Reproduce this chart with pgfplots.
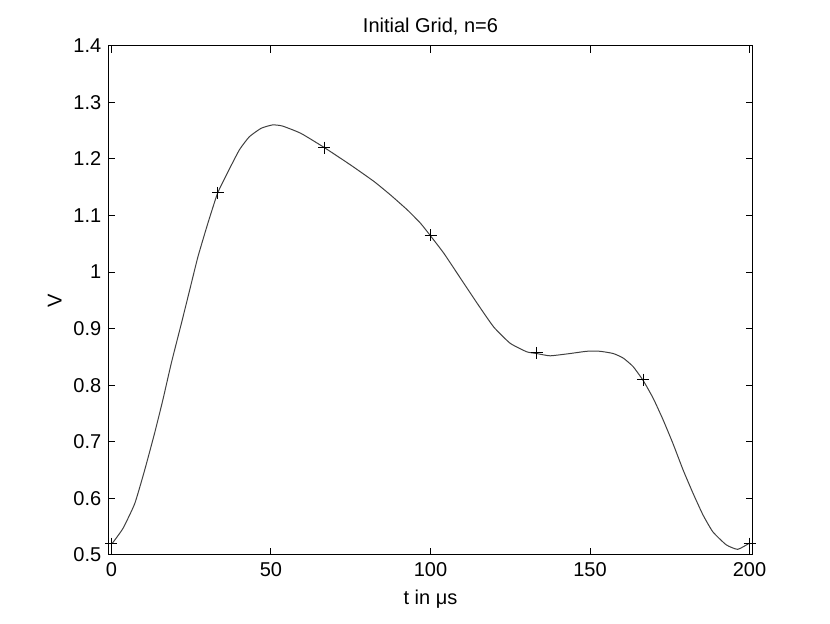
\documentclass[border=0pt]{standalone}
\usepackage{fontspec}
\setmainfont{Liberation Sans}
\usepackage{pgfplots}
\pgfplotsset{compat=1.18}

\begin{document}
\begin{tikzpicture}
\begin{axis}[
    scale only axis,
    width=322.2pt, height=254.65pt,
    xmin=-1, xmax=201, ymin=0.5, ymax=1.4,
    xtick={0,50,100,150,200},
    ytick={0.5,0.6,...,1.4},
    tick align=inside,
    tick pos=both,
    major tick length=3.5pt,
    axis line style={line width=0.5pt},
    every tick/.style={line width=0.5pt, black},
    font=\fontsize{10}{11}\selectfont,
    /pgf/number format/assume math mode=true,
    title={Initial Grid, n=6},
    title style={yshift=-4pt},
    xlabel={t in μs},
    ylabel={V},
    xlabel style={yshift=0pt},
    ylabel style={yshift=-1pt},
]
% interpolated curve
\addplot[black!75, line width=0.5pt, smooth, tension=0.3] coordinates {
(0.3,0.521) (3.6,0.547) (7.3,0.591) (10.4,0.650) (13.5,0.715) (16.1,0.774)
(18.75,0.839) (21.9,0.909) (24.5,0.968) (27.1,1.027) (30.2,1.086) (33.3,1.14)
(36.5,1.177) (40.1,1.216) (43.2,1.239) (46.9,1.254) (50.5,1.260) (53.6,1.258)
(59.4,1.245) (66.7,1.220) (75,1.189) (82.3,1.160) (87.5,1.136) (92.7,1.110)
(96.9,1.086) (100,1.064) (104.2,1.033) (109.4,0.989) (114.6,0.945) (119.8,0.903)
(125,0.874) (130.2,0.859) (133.3,0.856) (137.5,0.852) (143.75,0.856) (149,0.860)
(153.1,0.860) (157.3,0.856) (160.4,0.848) (163.5,0.833) (166.7,0.808) (169.8,0.777)
(172.9,0.739) (176,0.697) (179.2,0.650) (182.3,0.609) (185.4,0.571) (188.5,0.541)
(192.7,0.518) (196.3,0.510) (200,0.521)
};
% grid nodes
\addplot[only marks, mark=+, mark size=3pt, black, line width=0.5pt] coordinates {
(0,0.52) (33.33,1.14) (66.67,1.22) (100,1.065) (133.33,0.857) (166.67,0.81) (200,0.52)
};
\end{axis}
\pgfresetboundingbox
\path (-54.15pt,-34.5pt) rectangle (360.85pt,277.5pt);
\end{tikzpicture}
\end{document}
